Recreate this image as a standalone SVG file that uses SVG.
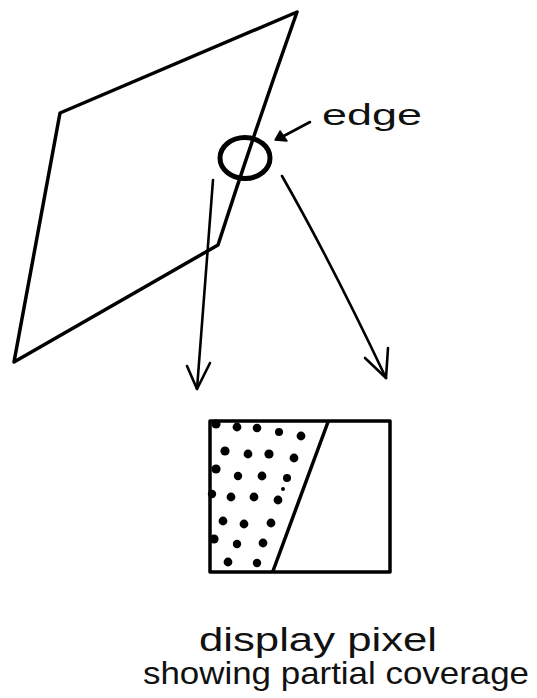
<svg xmlns="http://www.w3.org/2000/svg" width="537" height="698" viewBox="0 0 537 698">
<defs>
<style>
.ink{fill:none;stroke:#000;stroke-linecap:round;stroke-linejoin:round}
.shape{stroke-width:3.5}
.conn{stroke-width:2.6}
.lbl{font-family:"Liberation Sans",Arial,sans-serif;fill:#111}
.dot{fill:#000}
</style>
</defs>
<rect width="537" height="698" fill="#fff"/>
<g id="polygon">
<path class="ink shape" d="M297,12 L60,113 L14,362 L218,245 Q255,130 297,12 Z"/>
</g>
<g id="edge-circle">
<ellipse cx="245" cy="158" rx="25" ry="20.5" class="ink" stroke-width="5"/>
</g>
<g id="pixel">
<rect x="210" y="421" width="180" height="151" class="ink shape"/>
<path class="ink shape" d="M328,422 L273,571"/>
<g class="dot">
<circle cx="216" cy="424" r="4.6"/><circle cx="237" cy="427" r="4.4"/><circle cx="257" cy="428" r="4.3"/><circle cx="279" cy="432" r="4"/><circle cx="301" cy="436" r="4.4"/>
<circle cx="225" cy="451" r="4.6"/><circle cx="248" cy="454" r="4.4"/><circle cx="269" cy="454" r="4.6"/><circle cx="294" cy="458" r="4.4"/>
<circle cx="216" cy="469" r="4.6"/><circle cx="238" cy="476" r="4.2"/><circle cx="262" cy="476" r="4.4"/><circle cx="287" cy="478" r="4"/><circle cx="283" cy="489" r="2"/>
<circle cx="212" cy="494" r="4.2"/><circle cx="231" cy="497" r="4.4"/><circle cx="254" cy="497" r="4.4"/><circle cx="278" cy="500" r="4.4"/>
<circle cx="223" cy="521" r="4.4"/><circle cx="244" cy="524" r="4.4"/><circle cx="271" cy="523" r="4.4"/>
<circle cx="214" cy="539" r="4.6"/><circle cx="237" cy="544" r="4.2"/><circle cx="263" cy="543" r="4.4"/>
<circle cx="228" cy="562" r="4.4"/><circle cx="257" cy="563" r="4.2"/>
</g>
</g>
<g id="connectors">
<path class="ink conn" d="M213,180 L197,389"/>
<path class="ink conn" d="M187,366 L197,389 L210,363"/>
<path class="ink conn" d="M282,176 Q330,260 386,378"/>
<path class="ink conn" d="M365,358 L386,378 L388,348"/>
<path class="ink conn" d="M310,122 L280,138"/>
<path d="M275,140 L280,131 L287,141 Z" fill="#000" stroke="#000" stroke-width="1.5" stroke-linejoin="round"/>
</g>
<g id="labels">
<text class="lbl" x="322" y="125" font-size="30" textLength="100" lengthAdjust="spacingAndGlyphs">edge</text>
<text class="lbl" x="199" y="651" font-size="34" textLength="238" lengthAdjust="spacingAndGlyphs">display pixel</text>
<text class="lbl" x="143" y="684" font-size="32" textLength="386" lengthAdjust="spacingAndGlyphs">showing partial coverage</text>
</g>
</svg>
